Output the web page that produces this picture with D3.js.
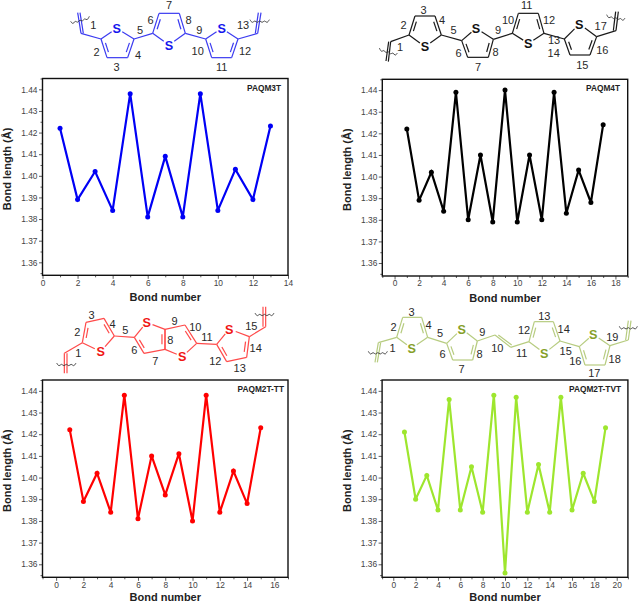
<!DOCTYPE html>
<html>
<head>
<meta charset="utf-8">
<script src="https://cdn.jsdelivr.net/npm/d3@7"></script>
<style>
html,body{margin:0;padding:0;background:#fff}
svg{display:block}
text{font-family:"Liberation Sans",Arial,sans-serif}
</style>
</head>
<body>
<svg id="c" width="640" height="604"></svg>
<script>
// ---- Data ----
const namePAQM3T = "PAQM3T";
const valuesPAQM3T = [1.422,1.389,1.402,1.384,1.438,1.381,1.409,1.381,1.438,1.384,1.403,1.389,1.423];
const namePAQM4T = "PAQM4T";
const valuesPAQM4T = [1.422,1.389,1.402,1.384,1.439,1.380,1.410,1.379,1.440,1.379,1.410,1.380,1.439,1.383,1.403,1.388,1.424];
const namePAQM2TTT = "PAQM2T-TT";
const valuesPAQM2TTT = [1.422,1.389,1.402,1.384,1.438,1.381,1.410,1.392,1.411,1.380,1.438,1.384,1.403,1.388,1.423];
const namePAQM2TTVT = "PAQM2T-TVT";
const valuesPAQM2TTVT = [1.421,1.390,1.401,1.385,1.436,1.385,1.405,1.384,1.438,1.356,1.437,1.384,1.406,1.384,1.437,1.385,1.402,1.389,1.423];
const yTicks = [1.36,1.37,1.38,1.39,1.40,1.41,1.42,1.43,1.44];
const yTitle = "Bond length (Å)";
const xTitle = "Bond number";

const svg = d3.select("#c");

const panels = [
  {name:namePAQM3T, v:valuesPAQM3T, color:"#0000f5", xd:[0,14], xmax:14, l:42.5, r:288, t:78.5, b:275.3, ttlx:281, xt:25.7},
  {name:namePAQM4T, v:valuesPAQM4T, color:"#000000", xd:[-1,19], xmax:18, l:382.3, r:627.7, t:79.3, b:276, ttlx:620, xt:25.7},
  {name:namePAQM2TTT, v:valuesPAQM2TTT, color:"#ff0000", xd:[-1,17], xmax:16, l:42.5, r:288, t:380, b:577.3, ttlx:284, xt:24},
  {name:namePAQM2TTVT, v:valuesPAQM2TTVT, color:"#9ee62e", xd:[-1,21], xmax:20, l:382.1, r:627.9, t:380, b:577.3, ttlx:621, xt:24}
];

panels.forEach(p => {
  const x = d3.scaleLinear().domain(p.xd).range([p.l,p.r]);
  const y = d3.scaleLinear().domain([1.354,1.445]).range([p.b,p.t]);
  const g = svg.append("g");
  const major = d3.range(0,p.xmax+1,2);
  const minor = d3.range(p.xd[0],p.xd[1]+0.01,1).filter(d=>!major.includes(d));
  const yMinor = d3.range(1.355,1.445,0.01);

  const axX = g.append("g").attr("transform",`translate(0,${p.b})`)
    .call(d3.axisBottom(x).tickValues(major).tickSize(3.5).tickPadding(1).tickFormat(d3.format("d")));
  const axXm = g.append("g").attr("transform",`translate(0,${p.b})`)
    .call(d3.axisBottom(x).tickValues(minor).tickSize(2).tickFormat(""));
  const axY = g.append("g").attr("transform",`translate(${p.l},0)`)
    .call(d3.axisLeft(y).tickValues(yTicks).tickSize(3.5).tickPadding(1.5).tickFormat(d3.format(".2f")));
  const axYm = g.append("g").attr("transform",`translate(${p.l},0)`)
    .call(d3.axisLeft(y).tickValues(yMinor).tickSize(2).tickFormat(""));
  [axX,axXm,axY,axYm].forEach(a=>{
    a.select(".domain").remove();
    a.selectAll("line").attr("stroke","#333").attr("stroke-width",0.8);
    a.selectAll("text").attr("font-size",8.4).attr("fill","#444");
  });
  g.append("rect").attr("x",p.l).attr("y",p.t).attr("width",p.r-p.l).attr("height",p.b-p.t)
    .attr("fill","none").attr("stroke","#111").attr("stroke-width",1.4);

  const line = d3.line().x((d,i)=>x(i+1)).y(d=>y(d));
  g.append("path").datum(p.v).attr("d",line).attr("fill","none")
    .attr("stroke",p.color).attr("stroke-width",2.2).attr("stroke-linejoin","miter").attr("stroke-miterlimit",3);
  g.selectAll("circle").data(p.v).join("circle")
    .attr("cx",(d,i)=>x(i+1)).attr("cy",d=>y(d)).attr("r",2.5).attr("fill",p.color);

  g.append("text").attr("x",p.ttlx).attr("y",p.t+12).attr("text-anchor","end")
    .attr("font-size",8.3).attr("font-weight","bold").attr("fill","#222").text(p.name);
  g.append("text").attr("x",(p.l+p.r)/2).attr("y",p.b+p.xt).attr("text-anchor","middle")
    .attr("font-size",11).attr("font-weight","bold").attr("fill","#222").text(xTitle);
  g.append("text").attr("transform",`translate(${p.l-31.5},${(p.t+p.b)/2-8}) rotate(-90)`)
    .attr("text-anchor","middle").attr("font-size",11).attr("font-weight","bold").attr("fill","#222").text(yTitle);
});

// ---- Molecular structure sketches above each plot ----
const structures = [
 {ox:0, oy:0, col:"#3b3bf0", sCol:"#1515ee", skip:[],
  rings:[[[303,117],[321,173],[383,173],[402,117],[350,85]],
         [[458,100],[477,40],[538,40],[556,100],[507,135]],
         [[617,117],[635,173],[695,173],[714,117],[665,85]]],
  links:[[243,100,303,117],[402,117,458,100],[556,100,617,117],[714,117,773,100]],
  vinyl:[[243,100,233,38,240,38,250,100],[773,100,783,38,775,38,766,100]],
  wavy:[[212,70,268,55],[750,65,808,65]],
  labels:[["1",280,77],["2",290,157],["3",350,202],["4",414,165],["5",420,90],["6",452,62],["7",507,15],["8",566,60],["9",598,90],["10",593,153],["11",665,203],["12",735,155],["13",729,76]]},
 {ox:320, oy:0, col:"#1a1a1a", sCol:"#111", skip:[],
  rings:[[[267,105],[285,48],[345,48],[364,105],[315,140]],
         [[425,122],[443,172],[505,172],[520,118],[468,85]],
         [[577,100],[595,40],[655,40],[672,100],[625,130]],
         [[733,117],[750,165],[810,165],[830,110],[778,72]]],
  links:[[212,125,267,105],[364,105,425,122],[520,118,577,100],[672,100,733,117],[830,110,888,92]],
  vinyl:[[212,125,205,185,198,183,206,125],[888,92,895,35,887,35,880,92]],
  wavy:[[178,150,232,165],[860,50,915,60]],
  labels:[["1",240,143],["2",251,76],["3",311,30],["4",366,62],["5",401,92],["6",416,160],["7",474,201],["8",527,158],["9",534,92],["10",564,60],["11",620,16],["12",687,60],["13",702,120],["14",701,160],["15",787,197],["16",847,150],["17",842,78]]},
 {ox:0, oy:305, col:"#ff4a4a", sCol:"#f01515", skip:[2],
  rings:[[[247,113],[258,52],[312,40],[343,93],[302,140]],
         [[403,97],[432,145],[495,133],[495,73],[440,52]],
         [[590,115],[555,60],[495,73],[495,133],[547,155]],
         [[650,118],[680,170],[740,157],[748,95],[688,72]]],
  links:[[193,145,247,113],[343,93,403,97],[590,115,650,118],[748,95,797,65]],
  vinyl:[[193,145,193,205,201,205,201,145],[797,65,797,5,789,5,789,65]],
  wavy:[[170,180,228,180],[765,30,822,30]],
  labels:[["1",235,145],["2",232,82],["3",275,30],["4",338,57],["5",376,75],["6",403,135],["7",466,168],["8",511,107],["9",524,48],["10",586,68],["11",621,97],["12",646,168],["13",719,191],["14",767,131],["15",754,63]]},
 {ox:320, oy:305, col:"#b7cc80", sCol:"#86a028", skip:[],
  rings:[[[230,97],[248,37],[305,37],[323,97],[275,130]],
         [[380,115],[398,165],[458,165],[472,108],[425,72]],
         [[627,110],[643,50],[700,50],[720,108],[673,145]],
         [[778,125],[795,180],[855,180],[870,122],[820,88]]],
  links:[[175,113,230,97],[323,97,380,115],[472,108,525,90],[572,127,627,110],[720,108,778,125],[870,122,925,105]],
  vinyl:[[175,113,165,172,172,172,182,113],[925,105,933,47,925,47,917,105],[525,90,572,127,535,90,575,120]],
  wavy:[[145,145,202,145],[898,70,952,70]],
  labels:[["1",218,130],["2",221,66],["3",275,22],["4",326,60],["5",360,85],["6",368,147],["7",425,192],["8",479,147],["9",487,81],["10",532,131],["11",605,145],["12",612,76],["13",673,35],["14",731,73],["15",737,140],["16",766,168],["17",823,204],["18",884,163],["19",877,97]]}
];

const wave = d3.line().curve(d3.curveBasis);

structures.forEach(st => {
  const g = svg.append("g").attr("transform",`translate(${st.ox},${st.oy}) scale(${1/3})`)
    .attr("fill","none").attr("stroke",st.col).attr("stroke-width",3.6);
  const seg = (a,b,c,d)=>g.append("line").attr("x1",a).attr("y1",b).attr("x2",c).attr("y2",d);
  st.links.forEach(l=>seg(...l));
  st.vinyl.forEach(v=>{seg(v[0],v[1],v[2],v[3]);seg(v[6],v[7],v[4],v[5]);});
  st.wavy.forEach(w=>{
    const n=8, pts=d3.range(n+1).map(i=>{
      const t=i/n, off=(i%2?1:-1)*6;
      return [w[0]+(w[2]-w[0])*t, w[1]+(w[3]-w[1])*t+off];
    });
    g.append("path").attr("d",wave(pts)).attr("stroke","#333").attr("stroke-width",2.6);
  });
  st.rings.forEach((r,ri)=>{
    const c=d3.polygonCentroid(r);
    seg(r[0][0],r[0][1],r[1][0],r[1][1]);
    seg(r[1][0],r[1][1],r[2][0],r[2][1]);
    seg(r[2][0],r[2][1],r[3][0],r[3][1]);
    const toS=(p)=>[p[0]+(r[4][0]-p[0])*0.68,p[1]+(r[4][1]-p[1])*0.68];
    const a=toS(r[0]),b=toS(r[3]);
    seg(r[0][0],r[0][1],a[0],a[1]);
    seg(r[3][0],r[3][1],b[0],b[1]);
    const pairs = st.skip.includes(ri) ? [[0,1]] : [[0,1],[2,3]];
    pairs.forEach(([i,j])=>{
      const mid=t=>[r[i][0]+(r[j][0]-r[i][0])*t,r[i][1]+(r[j][1]-r[i][1])*t];
      const p=mid(0.18),q=mid(0.82);
      seg(p[0]+(c[0]-p[0])*0.22,p[1]+(c[1]-p[1])*0.22,q[0]+(c[0]-q[0])*0.22,q[1]+(c[1]-q[1])*0.22);
    });
    g.append("text").attr("x",r[4][0]).attr("y",r[4][1]+14).attr("text-anchor","middle")
      .attr("font-size",38).attr("font-weight","bold").attr("fill",st.sCol).attr("stroke","none").text("S");
  });
  st.labels.forEach(l=>{
    g.append("text").attr("x",l[1]).attr("y",l[2]+11).attr("text-anchor","middle")
      .attr("font-size",33).attr("fill","#2a2a2a").attr("stroke","none").text(l[0]);
  });
});
</script>
</body>
</html>
